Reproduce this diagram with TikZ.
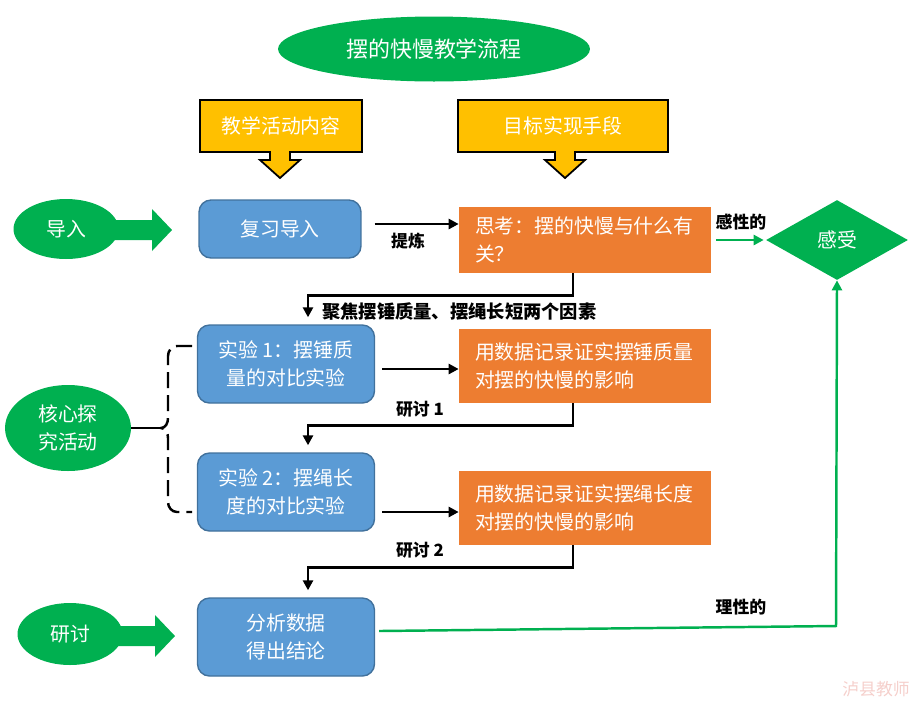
\documentclass[tikz,border=0pt]{standalone}
\usepackage{fontspec}
\setmainfont{Noto Sans CJK SC}
\usetikzlibrary{shapes.geometric,arrows.meta}
\definecolor{lvse}{HTML}{00B050}
\definecolor{lanse}{HTML}{5B9BD5}
\definecolor{lanbian}{HTML}{41719C}
\definecolor{chengse}{HTML}{ED7D31}
\definecolor{huangse}{HTML}{FFC000}
\definecolor{shuiyin}{HTML}{F5CFCB}
\newcommand{\dazi}{\fontsize{11.3}{15.9}\selectfont}
\newcommand{\xiaozi}{\fontsize{9.6}{12}\selectfont\bfseries}
\tikzset{
  lanbox/.style={draw=lanbian,fill=lanse,line width=0.8pt,rounded corners=0.24cm,
    minimum width=3.54cm,minimum height=1.56cm,text=white,align=center,font=\dazi},
  chengbox/.style={fill=chengse,text=white,align=left,text width=4.4cm,inner xsep=0.32cm,
    minimum height=1.48cm,font=\dazi},
  lvquan/.style={ellipse,fill=lvse,text=white,inner sep=0pt,align=center,font=\dazi},
  huangjian/.style={fill=huangse,draw=black,line width=1pt},
  heijian/.style={line width=1.6pt,-{Triangle[length=0.2cm,width=0.2cm]}},
  lvjian/.style={draw=lvse,line width=1.4pt,-{Triangle[length=0.2cm,width=0.2cm]}},
  biaoqian/.style={font=\xiaozi,inner sep=0pt}
}

\begin{document}
\begin{tikzpicture}[x=0.02cm,y=-0.02cm]
  \useasboundingbox (0,0) rectangle (915,701);
  % title
  \node[lvquan,minimum width=6.24cm,minimum height=1.3cm,font=\fontsize{12.5}{15}\selectfont] (biaoti) at (434,49) {摆的快慢教学流程};
  % yellow heads
  \draw[huangjian] (200,100)--(362,100)--(362,152)--(290,152)--(290,160)--(300,160)--(280,178)
      --(260,160)--(270,160)--(270,152)--(200,152)--cycle;
  \node[text=white,font=\dazi] (neirong) at (281,126) {教学活动内容};
  \draw[huangjian] (458,100)--(668,100)--(668,152)--(575,152)--(575,160)--(585,160)--(565,178)
      --(545,160)--(555,160)--(555,152)--(458,152)--cycle;
  \node[text=white,font=\dazi] (shouduan) at (563,126) {目标实现手段};
  % green fat arrows on the left
  \foreach \y/\t in {230/172, 636/175}{
      \fill[lvse] (100,\y-10)--(\t-20,\y-10)--(\t-20,\y-21)--(\t,\y)--(\t-20,\y+21)--(\t-20,\y+10)--(100,\y+10)--cycle;
  }
  \node[lvquan,minimum width=2.1cm,minimum height=1.2cm] (daoru) at (66,229) {导入};
  \node[lvquan,minimum width=2.1cm,minimum height=1.24cm] (yantao) at (70,634) {研讨};
  \node[lvquan,minimum width=2.52cm,minimum height=1.72cm] (hexin) at (68,428) {核心探\\究活动};
  % boxes
  \node[lanbox,minimum width=3.24cm,minimum height=1.16cm] (fuxi) at (280,229) {复习导入};
  \node[chengbox,minimum height=1.32cm] (sikao) at (585,240) {思考：摆的快慢与什么有\\关？};
  \node[diamond,aspect=1.8,inner sep=0pt,fill=lvse,text=white,font=\dazi,
      minimum width=2.84cm,minimum height=1.6cm] (ganshou) at (837,240) {感受};
  \node[lanbox] (shiyan1) at (286,364) {实验 1：摆锤质\\量的对比实验};
  \node[chengbox] (zhengshi1) at (585,366) {用数据记录证实摆锤质量\\对摆的快慢的影响};
  \node[lanbox] (shiyan2) at (286,492) {实验 2：摆绳长\\度的对比实验};
  \node[chengbox] (zhengshi2) at (585,508) {用数据记录证实摆绳长度\\对摆的快慢的影响};
  \node[lanbox] (fenxi) at (286,637) {分析数据\\得出结论};
  % connectors
  \draw[heijian] ([shift={(13,-5)}]fuxi.east) coordinate (t1) -- (t1 -| sikao.west);
  \foreach \a/\b/\dy in {shiyan1/zhengshi1/5, shiyan2/zhengshi2/20}{
      \draw[heijian] ([shift={(7,\dy)}]\a.east) coordinate (t2) -- (t2 -| \b.west);
  }
  \foreach \a/\b in {sikao/shiyan1, zhengshi1/shiyan2, zhengshi2/fenxi}{
      \draw[heijian] ([shift={(-12,0)}]\a.south) -- ++(0,22) -| ([shift={(22,-7)}]\b.north);
  }
  \draw[lvjian] ([shift={(5,0)}]sikao.east) -- ([shift={(-2,0)}]ganshou.west);
  \coordinate (guai) at (836,626);
  \draw[lvjian] ([shift={(4,-6)}]fenxi.east) -- (guai) -- (ganshou.south);
  % dashed bracket
  \draw[line width=1.4pt] (hexin.east) -- (161,428) coordinate (kuo);
  \draw[line width=1.4pt,dash pattern=on 0.32cm off 0.14cm]
      (192,346) -- (177,346) to[out=180,in=90] (168,356) -- (168,418) to[out=-90,in=0] (kuo)
      to[out=0,in=90] (168,438) -- (168,502) to[out=-90,in=180] (177,512) -- (192,512);
  % labels
  \node[biaoqian] (tilian) at (408,241) {提炼};
  \node[biaoqian,anchor=west,font=\fontsize{10.4}{12}\selectfont\bfseries] (jujiao) at (322,311) {聚焦摆锤质量、摆绳长短两个因素};
  \node[biaoqian] (yt1) at (420,409) {研讨 1};
  \node[biaoqian] (yt2) at (420,550) {研讨 2};
  \node[biaoqian] (ganxing) at (741,222) {感性的};
  \node[biaoqian] (lixing) at (741,607) {理性的};
  \node[text=shuiyin,font=\fontsize{9.6}{12}\selectfont,inner sep=0pt] (shuiyin) at (876,689) {泸县教师};
\end{tikzpicture}
\end{document}
